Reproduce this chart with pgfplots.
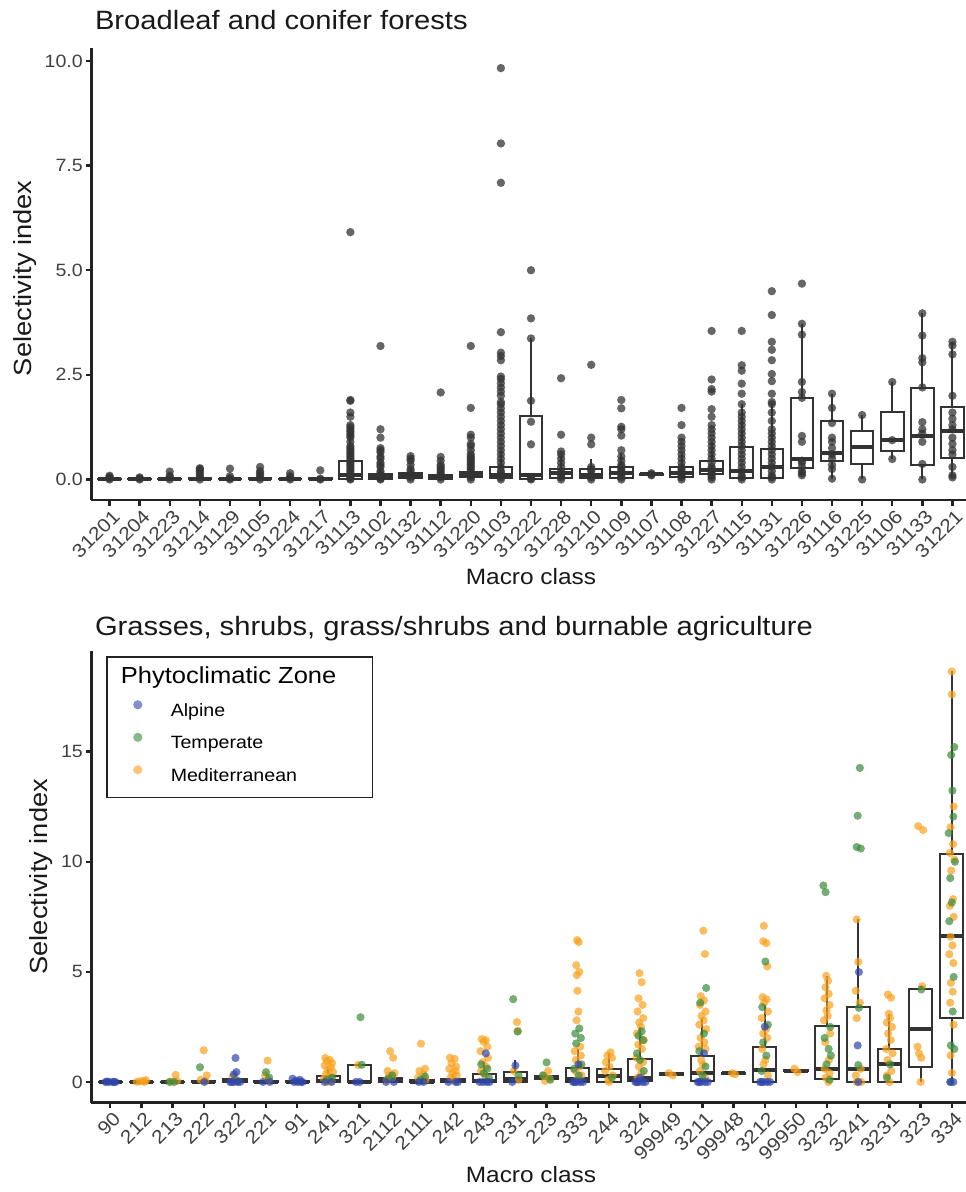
\documentclass[border=0pt]{standalone}
\usepackage{fontspec}
\setmainfont[FakeStretch=1.1]{Liberation Sans}
\usepackage{pgfplots}
\pgfplotsset{compat=1.18}
\usepgfplotslibrary{statistics}

\definecolor{boxc}{HTML}{333333}
\definecolor{axc}{HTML}{222222}
\definecolor{alpc}{HTML}{2F45AA}
\definecolor{tmpc}{HTML}{3A8A3A}
\definecolor{medc}{HTML}{F9A11B}

\pgfplotsset{
  ggpanel/.style={
    width=879pt, scale only axis,
    axis x line*=bottom, axis y line*=left,
    axis line style={-, line width=2.6pt, axc},
    x axis line style={-}, y axis line style={-},
    tick align=outside, major tick length=5.5pt,
    tick style={line width=2.4pt, axc},
    xtick pos=bottom, ytick pos=left,
    tick label style={font=\fontsize{17.8}{20}\selectfont, text=black!75},
    xticklabel style={font=\fontsize{19}{21}\selectfont, rotate=45, anchor=north east, inner sep=2pt, xshift=1.5pt, yshift=-1.5pt},
    yticklabel style={inner sep=3pt},
    label style={font=\fontsize{22.2}{26}\selectfont, text=black!90},
    ylabel style={font=\fontsize{24.8}{28}\selectfont},
    title style={font=\fontsize{26.5}{30}\selectfont, text=black!90, anchor=base west},
    boxplot/draw direction=y,
    boxplot/box extend=0.75,
    boxplot/whisker extend=0,
    boxplot/every median/.style={line width=4pt},
  },
  bxs/.style={draw=boxc, line width=2pt, fill=white},
  dotA/.style={only marks, mark=*, mark size=4.1pt, mark options={draw=alpc, fill=alpc, fill opacity=#1, draw opacity=0}},
  dotT/.style={only marks, mark=*, mark size=4.1pt, mark options={draw=tmpc, fill=tmpc, fill opacity=#1, draw opacity=0}},
  dotM/.style={only marks, mark=*, mark size=4.1pt, mark options={draw=medc, fill=medc, fill opacity=#1, draw opacity=0}},
  dotA/.default=0.7, dotT/.default=0.7, dotM/.default=0.7,
}
\newcommand\bx[6]{\addplot[bxs, boxplot prepared={draw position=#1, lower whisker=#2, lower quartile=#3, median=#4, upper quartile=#5, upper whisker=#6}] coordinates {};}

\begin{document}
\begin{tikzpicture}
% ---------------- top panel ----------------
\begin{axis}[ggpanel, at={(0pt,0pt)}, anchor=south west,
  height=452.4pt,
  xmin=0.4, xmax=29.6, ymin=-0.49, ymax=10.32,
  xtick={1,...,29},
  xticklabels={31201,31204,31223,31214,31129,31105,31224,31217,31113,31102,31132,31112,31220,31103,31222,31228,31210,31109,31107,31108,31227,31115,31131,31226,31116,31225,31106,31133,31221},
  ytick={0,2.5,5,7.5,10}, yticklabels={0.0,2.5,5.0,7.5,10.0},
  title={Broadleaf and conifer forests},
  title style={at={(axis description cs:0,1.0265)}},
  xlabel={Macro class}, xlabel style={at={(axis description cs:0.5,-0.1857)}, anchor=base},
  ylabel={Selectivity index}, ylabel style={at={(axis description cs:-0.0677,0.49)}, anchor=base},
]
\bx{1}{0}{0}{0}{0.02}{0.04}
\bx{2}{0}{0}{0}{0.01}{0.02}
\bx{3}{0}{0}{0}{0.02}{0.04}
\bx{4}{0}{0}{0.01}{0.03}{0.06}
\bx{5}{0}{0}{0}{0.02}{0.04}
\bx{6}{0}{0}{0.01}{0.03}{0.06}
\bx{7}{0}{0}{0}{0.02}{0.04}
\bx{8}{0}{0}{0.02}{0.04}{0.06}
\bx{9}{0}{0.02}{0.1}{0.45}{1.08}
\bx{10}{0}{0}{0.05}{0.13}{0.3}
\bx{11}{0}{0.03}{0.08}{0.15}{0.3}
\bx{12}{0}{0.02}{0.05}{0.1}{0.2}
\bx{13}{0}{0.05}{0.12}{0.19}{0.4}
\bx{14}{0}{0.03}{0.1}{0.3}{0.7}
\bx{15}{0}{0.02}{0.1}{1.52}{3.37}
\bx{16}{0}{0.03}{0.15}{0.26}{0.55}
\bx{17}{0}{0.03}{0.1}{0.25}{0.5}
\bx{18}{0}{0.03}{0.15}{0.3}{0.6}
\bx{19}{0.08}{0.1}{0.12}{0.14}{0.16}
\bx{20}{0}{0.05}{0.15}{0.3}{0.6}
\bx{21}{0}{0.13}{0.22}{0.44}{0.9}
\bx{22}{0}{0.04}{0.2}{0.77}{1.8}
\bx{23}{0}{0.04}{0.3}{0.74}{1.8}
\bx{24}{0.1}{0.27}{0.5}{1.95}{3.72}
\bx{25}{0.02}{0.44}{0.64}{1.39}{2.05}
\bx{26}{0}{0.37}{0.77}{1.15}{1.54}
\bx{27}{0.49}{0.68}{0.94}{1.62}{2.33}
\bx{28}{0}{0.34}{1.04}{2.18}{3.97}
\bx{29}{0.05}{0.51}{1.17}{1.73}{3.29}
\addplot[only marks, mark=*, mark size=4.2pt, mark options={draw=black, fill=black!80, fill opacity=0.75, draw opacity=0}] table {
x y
1 0
1 0.03
1 0.06
1 0.09
2 0
2 0.03
2 0.05
3 0
3 0.05
3 0.09
3 0.19
4 0
4 0.05
4 0.1
4 0.15
4 0.2
4 0.25
4 0.27
5 0
5 0.03
5 0.08
5 0.26
6 0
6 0.05
6 0.1
6 0.15
6 0.2
6 0.3
7 0
7 0.04
7 0.08
7 0.15
8 0
8 0.02
8 0.22
9 0
9 0.02
9 0.05
9 0.1
9 0.15
9 0.2
9 0.25
9 0.3
9 0.35
9 0.4
9 0.45
9 0.5
9 0.55
9 0.6
9 0.65
9 0.7
9 0.75
9 0.8
9 0.9
9 1.0
9 1.05
9 1.1
9 1.15
9 1.2
9 1.25
9 1.3
9 1.5
9 1.6
9 1.88
9 1.9
9 5.91
10 0
10 0.02
10 0.05
10 0.1
10 0.15
10 0.2
10 0.3
10 0.35
10 0.4
10 0.5
10 0.55
10 0.65
10 0.7
10 0.75
10 1.0
10 1.2
10 3.19
11 0
11 0.05
11 0.1
11 0.2
11 0.25
11 0.35
11 0.45
11 0.5
11 0.56
12 0
12 0.05
12 0.1
12 0.15
12 0.2
12 0.25
12 0.3
12 0.35
12 0.45
12 0.54
12 2.08
13 0
13 0.05
13 0.1
13 0.15
13 0.2
13 0.25
13 0.3
13 0.35
13 0.4
13 0.45
13 0.5
13 0.55
13 0.6
13 0.7
13 0.8
13 0.85
13 1.0
13 1.07
13 1.71
13 3.19
14 0
14 0.05
14 0.1
14 0.15
14 0.2
14 0.3
14 0.4
14 0.5
14 0.6
14 0.7
14 0.8
14 0.9
14 1.0
14 1.1
14 1.2
14 1.3
14 1.4
14 1.5
14 1.6
14 1.7
14 1.8
14 1.85
14 2.0
14 2.1
14 2.2
14 2.3
14 2.4
14 2.46
14 2.85
14 2.95
14 3.03
14 3.52
14 7.09
14 8.03
14 9.83
15 0
15 0.02
15 0.05
15 0.84
15 1.38
15 1.88
15 3.37
15 3.85
15 5.0
16 0
16 0.05
16 0.1
16 0.15
16 0.2
16 0.3
16 0.4
16 0.5
16 0.6
16 0.67
16 1.07
16 2.42
17 0
17 0.05
17 0.1
17 0.2
17 0.25
17 0.3
17 0.84
17 1.0
17 2.74
18 0
18 0.05
18 0.1
18 0.15
18 0.2
18 0.25
18 0.3
18 0.35
18 0.45
18 0.55
18 0.7
18 1.05
18 1.2
18 1.26
18 1.7
18 1.9
19 0.1
19 0.12
19 0.15
20 0
20 0.05
20 0.1
20 0.15
20 0.2
20 0.25
20 0.3
20 0.4
20 0.5
20 0.6
20 0.7
20 0.8
20 0.9
20 1.0
20 1.3
20 1.71
21 0
21 0.05
21 0.1
21 0.15
21 0.2
21 0.25
21 0.3
21 0.4
21 0.5
21 0.6
21 0.7
21 0.8
21 0.9
21 1.0
21 1.1
21 1.2
21 1.3
21 1.5
21 1.68
21 2.1
21 2.16
21 2.39
21 3.55
22 0
22 0.05
22 0.1
22 0.2
22 0.3
22 0.4
22 0.5
22 0.6
22 0.7
22 0.8
22 0.9
22 1.0
22 1.1
22 1.2
22 1.3
22 1.4
22 1.5
22 1.6
22 1.8
22 2.05
22 2.29
22 2.6
22 2.73
22 3.55
23 0
23 0.05
23 0.1
23 0.2
23 0.3
23 0.4
23 0.5
23 0.6
23 0.7
23 0.8
23 0.9
23 1.0
23 1.1
23 1.2
23 1.4
23 1.6
23 1.8
23 1.85
23 2.05
23 2.35
23 2.52
23 2.85
23 3.1
23 3.29
23 3.93
23 4.5
24 0.1
24 0.15
24 0.2
24 0.3
24 0.4
24 0.45
24 0.9
24 1.04
24 1.95
24 2.09
24 2.33
24 3.46
24 3.72
24 4.68
25 0.02
25 0.25
25 0.35
25 0.5
25 0.6
25 0.75
25 0.9
25 1.0
25 1.35
25 1.71
25 2.05
26 0
26 1.54
27 0.49
27 0.94
27 2.33
28 0
28 0.37
28 0.9
28 1.1
28 1.2
28 1.37
28 2.2
28 2.8
28 2.9
28 3.44
28 3.97
29 0.05
29 0.1
29 0.3
29 0.6
29 0.7
29 0.85
29 1.0
29 1.2
29 1.3
29 1.45
29 1.6
29 2.0
29 2.99
29 3.2
29 3.29
};
\end{axis}

% ---------------- bottom panel ----------------
\begin{axis}[ggpanel, at={(0pt,-602.5pt)}, anchor=south west,
  height=451.5pt,
  xmin=0.4, xmax=28.6, ymin=-0.932, ymax=19.57,
  xtick={1,...,28},
  xticklabels={90,212,213,222,322,221,91,241,321,2112,2111,242,243,231,223,333,244,324,99949,3211,99948,3212,99950,3232,3241,3231,323,334},
  ytick={0,5,10,15}, yticklabels={0,5,10,15},
  title={Grasses, shrubs, grass/shrubs and burnable agriculture},
  title style={at={(axis description cs:0,1.022)}},
  xlabel={Macro class}, xlabel style={at={(axis description cs:0.5,-0.1773)}, anchor=base},
  ylabel={Selectivity index}, ylabel style={at={(axis description cs:-0.050,0.5)}, anchor=base},
  legend cell align=left,
  legend image code/.code={\path[draw=none, fill=none] (0pt,0pt) rectangle (34pt,12pt); \draw[#1] plot coordinates {(17pt,6pt)};},
  legend style={at={(axis description cs:0,1)}, anchor=north west, xshift=14.5pt, yshift=-5pt,
    draw=axc, line width=1.6pt, fill=white, inner xsep=14pt, inner ysep=11pt,
    font=\fontsize{17.8}{20}\selectfont, row sep=10pt, column sep=16pt,
    nodes={text height=16pt, text depth=5pt, inner sep=0pt}},
]
\addlegendimage{empty legend}
\addlegendentry{\hspace*{-50pt}\fontsize{23.2}{26}\selectfont Phytoclimatic Zone\hspace*{22pt}}
\addlegendimage{dotA=0.6, mark size=4.6pt}
\addlegendentry{Alpine}
\addlegendimage{dotT=0.6, mark size=4.6pt}
\addlegendentry{Temperate}
\addlegendimage{dotM=0.6, mark size=4.6pt}
\addlegendentry{Mediterranean}
\bx{1}{0}{0}{0}{0.01}{0.01}
\bx{2}{0}{0}{0.01}{0.02}{0.03}
\bx{3}{0}{0}{0}{0.02}{0.03}
\bx{4}{0}{0}{0.02}{0.05}{0.1}
\bx{5}{0}{0}{0.03}{0.12}{0.25}
\bx{6}{0}{0}{0.02}{0.06}{0.12}
\bx{7}{0}{0}{0}{0.03}{0.06}
\bx{8}{0}{0}{0.05}{0.26}{0.6}
\bx{9}{0}{0}{0.02}{0.77}{0.8}
\bx{10}{0}{0}{0.05}{0.2}{0.45}
\bx{11}{0}{0}{0.02}{0.1}{0.25}
\bx{12}{0}{0}{0.05}{0.15}{0.35}
\bx{13}{0}{0}{0.05}{0.38}{0.9}
\bx{14}{0}{0}{0.15}{0.46}{1.0}
\bx{15}{0.1}{0.15}{0.2}{0.25}{0.3}
\bx{16}{0}{0}{0.15}{0.63}{1.5}
\bx{17}{0}{0}{0.25}{0.58}{1.3}
\bx{18}{0}{0.05}{0.2}{1.06}{2.5}
\bx{19}{0.3}{0.32}{0.35}{0.42}{0.45}
\bx{20}{0}{0.05}{0.4}{1.2}{2.9}
\bx{21}{0.35}{0.37}{0.4}{0.43}{0.45}
\bx{22}{0}{0}{0.55}{1.57}{3.5}
\bx{23}{0.45}{0.48}{0.51}{0.55}{0.6}
\bx{24}{0}{0.15}{0.58}{2.56}{4.82}
\bx{25}{0}{0}{0.58}{3.42}{7.38}
\bx{26}{0}{0}{0.8}{1.49}{3.08}
\bx{27}{0}{0.7}{2.4}{4.2}{4.35}
\bx{28}{0}{2.91}{6.62}{10.34}{18.64}
% Mediterranean
\addplot[dotM] table {
x y
1.85 0
1.95 0.03
2.05 0.05
2.15 0.08
2.1 0
3.1 0.32
2.95 0.02
3.15 0.05
4.0 1.44
4.1 0.3
3.9 0.1
4.05 0.05
4.93 0.25
5.05 0.1
6.05 0.97
5.97 0.3
6.08 0.1
7.9 1.09
8.05 1.0
7.95 0.95
8.12 0.85
7.88 0.75
8.08 0.65
7.98 0.55
8.15 0.45
7.92 0.35
8.02 0.25
7.85 0.15
8.1 0.05
7.96 0
8.95 0.77
9.98 1.4
10.08 1.1
9.9 0.5
10.12 0.4
9.95 0.3
10.05 0.2
9.88 0.1
10.97 1.74
11.1 0.6
10.92 0.5
11.05 0.35
10.88 0.2
11.12 0.1
11.9 1.1
12.05 1.05
11.95 0.85
12.1 0.7
11.88 0.6
12.08 0.5
11.98 0.4
12.12 0.3
11.92 0.2
12.02 0.1
12.92 1.95
13.05 1.9
12.98 1.83
13.1 1.6
12.88 1.4
13.12 1.1
12.95 0.9
13.06 0.7
12.9 0.5
13.02 0.3
14.05 2.72
14.08 2.32
13.95 0.5
14.1 0.1
15.05 0.5
14.92 0.3
15.1 0.15
14.95 0.05
15.98 6.44
16.03 6.35
15.95 5.3
16.05 5.0
15.97 4.85
15.99 4.14
16.02 3.2
15.96 2.8
16.08 1.6
15.9 1.4
16.1 1.2
15.94 1.0
16.06 0.7
15.92 0.5
16.12 0.3
15.98 0.1
17.05 1.35
16.95 1.2
17.1 1.1
16.9 0.9
17.02 0.7
16.88 0.5
17.12 0.3
16.98 0.1
17.0 0
17.98 4.94
18.05 4.53
17.95 3.8
18.08 3.5
17.92 3.2
18.1 2.9
17.97 2.7
18.03 2.5
17.9 2.2
18.12 1.9
17.94 1.7
18.06 1.5
17.88 1.1
18.1 0.9
17.96 0.7
18.04 0.4
17.92 0.2
18.92 0.4
19.05 0.3
20.03 6.87
20.08 5.81
19.95 3.9
20.05 3.7
19.92 3.5
20.1 3.2
19.97 3.0
20.04 2.8
19.9 2.6
20.12 2.4
19.94 2.0
20.06 1.8
19.88 1.6
20.1 1.5
19.96 1.0
20.02 0.8
19.92 0.5
20.08 0.2
20.95 0.4
21.05 0.35
21.97 7.09
21.95 6.39
22.05 6.3
22.08 5.25
21.93 3.85
22.06 3.75
21.98 3.6
22.1 3.2
21.9 2.9
22.04 2.4
21.95 2.2
22.08 2.0
21.92 1.5
22.02 1.0
21.96 0.8
22.1 0.3
22.95 0.6
23.05 0.45
23.97 4.82
24.03 4.6
23.95 4.3
24.05 4.0
23.92 3.8
24.08 3.5
23.98 3.25
24.02 3.0
23.9 2.8
24.1 2.2
23.94 1.8
24.06 1.0
23.92 0.6
24.08 0.4
23.96 0.2
24.04 0
24.95 7.38
25.0 5.45
24.92 4.14
25.05 3.6
24.95 2.9
25.08 0.6
24.92 0.3
24.95 0
25.1 0
25.95 3.97
26.05 3.83
25.98 3.1
26.02 2.9
25.92 2.7
26.08 2.5
25.96 2.2
26.04 1.9
25.9 1.5
26.1 1.3
25.94 1.0
26.06 0.5
25.92 0.3
26.0 0
26.92 11.62
27.08 11.44
27.05 4.35
26.9 1.6
26.95 1.3
27.02 1.1
27.0 0
28.0 18.64
28.0 17.6
28.06 12.51
27.96 11.57
28.04 10.8
27.94 10.4
28.08 10.1
27.98 9.6
28.04 8.3
27.94 8.0
28.06 7.5
27.96 6.6
28.02 6.2
27.92 5.8
28.05 5.4
27.97 4.5
28.03 4.1
27.95 3.6
28.06 2.6
27.96 1.2
28.0 0.41
};
% Temperate
\addplot[dotT] table {
x y
2.9 0
3.05 0
3.88 0.67
5.1 0.05
6.0 0.45
6.1 0.2
8.12 0.2
7.95 0.1
9.03 2.94
9.07 0.78
10.05 0.3
9.92 0.15
11.1 0.25
10.95 0.1
12.9 0.8
13.1 0.6
12.98 0.4
13.15 0.2
13.93 3.76
14.1 0.3
14.07 2.29
15.0 0.89
14.88 0.3
15.12 0.1
16.05 2.43
15.92 2.2
16.1 2.0
15.95 1.75
16.12 0.8
15.88 0.6
16.03 0.3
17.1 0.2
18.05 2.3
17.95 2.1
18.1 1.9
17.9 1.3
18.0 1.0
18.12 0.5
20.12 4.27
19.93 3.6
20.05 2.2
19.9 1.4
20.1 0.7
20.0 0.3
22.02 5.47
21.92 3.4
22.1 2.6
21.95 1.8
22.05 1.2
21.9 0.5
23.88 8.92
23.95 8.62
24.1 2.5
23.92 2.0
24.05 1.5
24.12 1.2
23.98 0.8
24.08 0.1
25.05 14.26
24.98 12.09
24.95 10.67
25.08 10.6
25.02 3.37
25.0 0.77
26.02 0.8
25.92 0.2
27.02 4.2
28.08 15.21
27.98 14.85
28.02 13.23
28.05 12.05
27.9 11.3
28.1 10.0
27.95 9.26
28.0 8.15
27.92 7.3
28.06 4.77
28.03 3.2
27.97 1.66
28.08 1.5
27.96 0.0
};
% Alpine
\addplot[dotA] table {
x y
0.85 0
1.08 0
0.96 0
1.17 0
0.9 0.02
1.12 0
4.02 0
5.02 1.09
5.05 0.45
4.97 0.35
4.85 0
5.08 0
4.96 0
5.17 0
4.9 0
5.9 0
6.12 0
6.85 0.15
7.08 0.1
6.96 0.05
7.17 0
6.9 0
7.12 0
7.02 0
8.1 0
7.88 0
9.0 0
8.88 0
9.85 0
10.1 0
11.05 0
10.9 0
11.85 0
12.08 0
12.15 0
13.05 1.3
12.85 0
13.08 0
12.96 0
13.17 0
14.0 0.75
13.9 0
16.02 0.8
15.85 0
16.08 0
15.96 0
16.17 0
15.9 0
18.0 0.2
17.85 0
18.08 0
17.96 0
18.17 0
17.9 0
20.05 1.3
19.85 0
20.08 0
19.96 0
20.17 0
19.9 0
22.0 2.51
21.85 0
22.08 0
21.96 0
22.17 0
21.9 0
25.02 4.99
24.98 1.66
25.0 0
27.95 0
28.05 0
};
\end{axis}
\pgfresetboundingbox
\path[use as bounding box] (-91.5pt,-692pt) rectangle (874.5pt,500pt);
\end{tikzpicture}
\end{document}
